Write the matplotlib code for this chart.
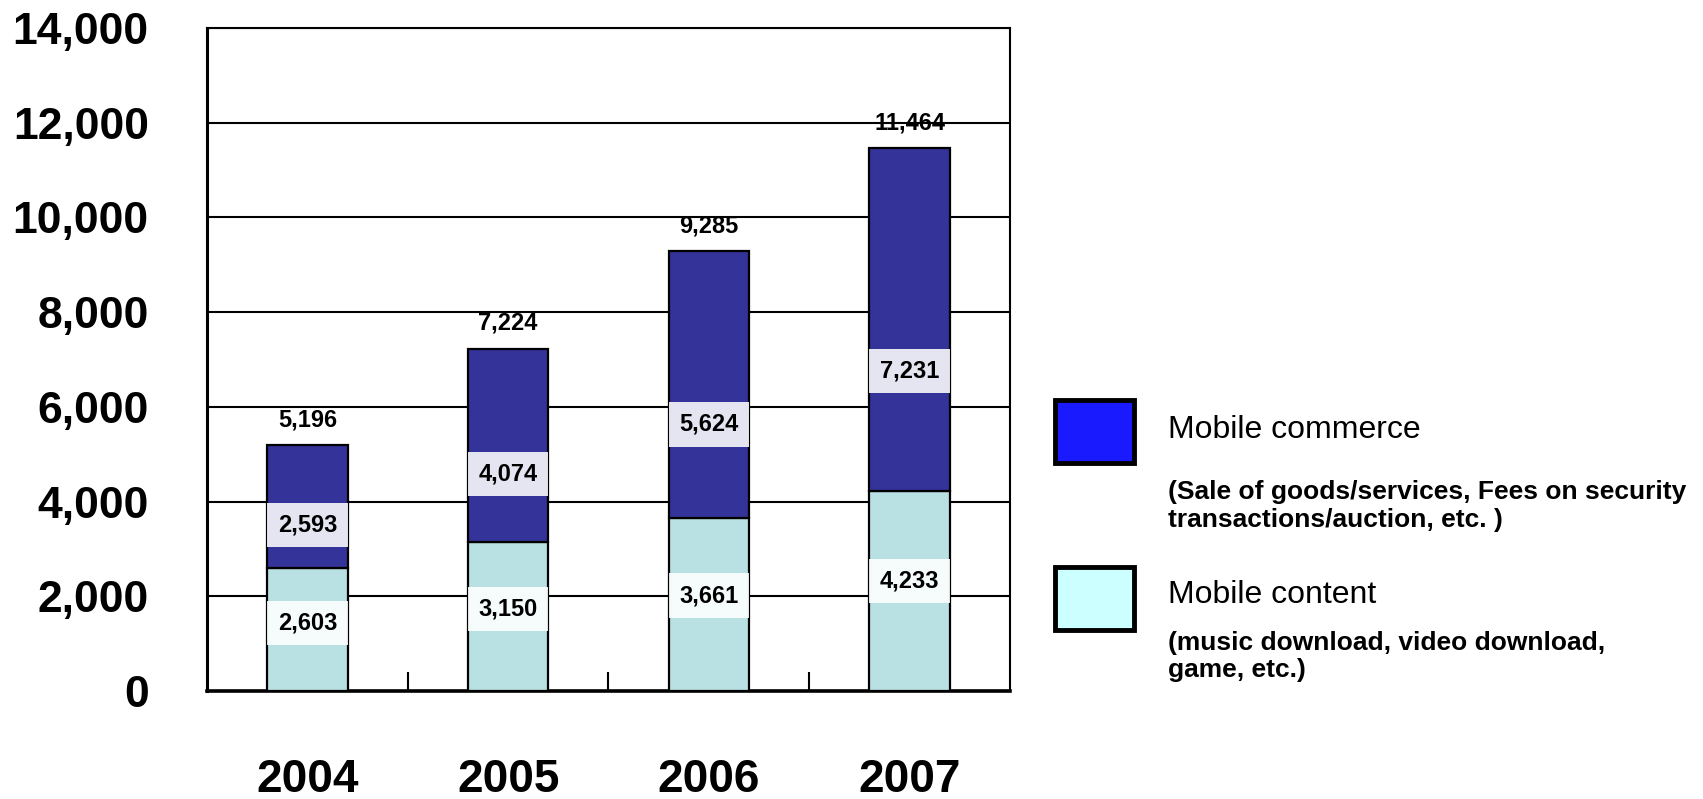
import matplotlib.pyplot as plt
import numpy as np
from matplotlib.patches import Rectangle
from matplotlib.ticker import FixedLocator, FuncFormatter

years = ["2004", "2005", "2006", "2007"]
content = [2603, 3150, 3661, 4233]
commerce = [2593, 4074, 5624, 7231]
totals = [5196, 7224, 9285, 11464]
y_ticks = [0, 2000, 4000, 6000, 8000, 10000, 12000, 14000]

ARIAL = ["Liberation Sans", "DejaVu Sans"]

commerce_color = "#333399"
content_color = "#b9e0e2"

fig = plt.figure(figsize=(17.03, 7.99), dpi=100)
ax = fig.add_axes([0.1216, 0.1352, 0.4714, 0.8298])

x = np.arange(len(years))
width = 0.4
ax.bar(x, content, width, color=content_color, edgecolor="black",
       linewidth=1.6, zorder=3)
ax.bar(x, commerce, width, bottom=content, color=commerce_color,
       edgecolor="black", linewidth=1.6, zorder=3)

box = dict(boxstyle="square,pad=0.45", facecolor="white", alpha=0.88,
           edgecolor="none")
for i in range(len(years)):
    ax.text(x[i], content[i] * 0.55, f"{content[i]:,}", ha="center",
            va="center", fontsize=17, fontweight="bold", family=ARIAL,
            bbox=box, zorder=4)
    ax.text(x[i], content[i] + commerce[i] * 0.35, f"{commerce[i]:,}",
            ha="center", va="center", fontsize=17, fontweight="bold",
            family=ARIAL, bbox=box, zorder=4)
    ax.annotate(f"{totals[i]:,}", (x[i], totals[i]), xytext=(0, 10),
                textcoords="offset points", ha="center", va="bottom",
                fontsize=17, fontweight="bold", family=ARIAL)

ax.set_xlim(-0.5, len(years) - 0.5)
ax.set_ylim(0, 14000)
ax.yaxis.set_major_locator(FixedLocator(y_ticks))
ax.yaxis.set_major_formatter(FuncFormatter(lambda v, _: f"{int(v):,}"))
ax.grid(axis="y", color="black", linewidth=1.5, zorder=0)
ax.set_axisbelow(True)

ax.set_xticks(x, years)
ax.set_xticks(x[:-1] + 0.5, minor=True)
ax.tick_params(axis="x", which="major", length=0, pad=48)
ax.tick_params(axis="x", which="minor", direction="in", length=14,
               width=1.5)
ax.tick_params(axis="y", direction="in", length=8, width=1.2, pad=42)
for label in ax.get_xticklabels():
    label.set_family(ARIAL)
    label.set_fontsize(33)
    label.set_fontweight("bold")
for label in ax.get_yticklabels():
    label.set_family(ARIAL)
    label.set_fontsize(32)
    label.set_fontweight("bold")

for side, lw in {"left": 2.2, "bottom": 2.6, "top": 1.5, "right": 1.5}.items():
    ax.spines[side].set_linewidth(lw)
    ax.spines[side].set_color("black")

# legend drawn by hand on the figure
fig.patches.append(Rectangle((0.6195, 0.4205), 0.0464, 0.0789,
                             facecolor="#1a1aff", edgecolor="black",
                             linewidth=3.5, transform=fig.transFigure,
                             figure=fig))
fig.patches.append(Rectangle((0.6195, 0.2115), 0.0464, 0.0789,
                             facecolor="#ccffff", edgecolor="black",
                             linewidth=3.5, transform=fig.transFigure,
                             figure=fig))
fig.text(0.6858, 0.4618, "Mobile commerce", family=ARIAL, fontsize=23,
         va="center", ha="left")
fig.text(0.6858, 0.3667,
         "(Sale of goods/services, Fees on security\n"
         "transactions/auction, etc. )",
         family=ARIAL, fontsize=19, fontweight="bold", va="center",
         ha="left", linespacing=1.2)
fig.text(0.6858, 0.2553, "Mobile content", family=ARIAL, fontsize=23,
         va="center", ha="left")
fig.text(0.6858, 0.1784,
         "(music download, video download,\ngame, etc.)",
         family=ARIAL, fontsize=19, fontweight="bold", va="center",
         ha="left", linespacing=1.2)

fig.savefig("out.png", dpi=100)
